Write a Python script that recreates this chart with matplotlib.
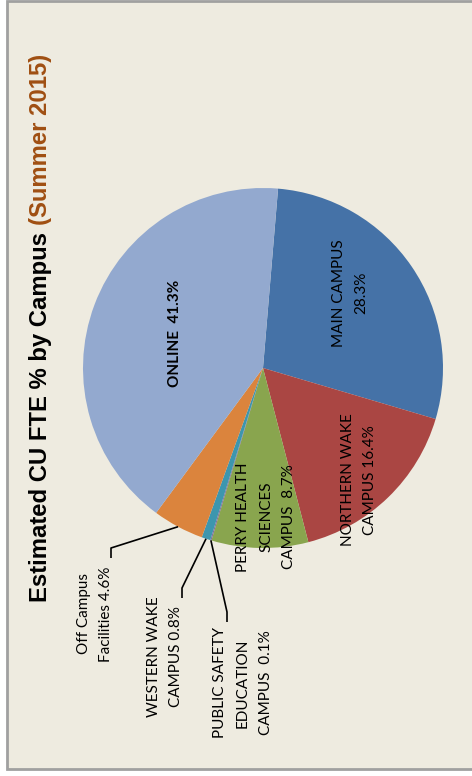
import matplotlib.pyplot as plt
from matplotlib.patches import Rectangle
import numpy as np

campuses = ['MAIN CAMPUS', 'NORTHERN WAKE CAMPUS', 'PERRY HEALTH SCIENCES CAMPUS',
            'PUBLIC SAFETY EDUCATION CAMPUS', 'WESTERN WAKE CAMPUS',
            'Off Campus Facilities', 'ONLINE']
shares = [28.3, 16.4, 8.7, 0.1, 0.8, 4.6, 41.3]
label_texts = ['MAIN CAMPUS\n28.3%', 'NORTHERN WAKE\nCAMPUS 16.4%',
               'PERRY HEALTH\nSCIENCES\nCAMPUS  8.7%', 'PUBLIC SAFETY\nEDUCATION\nCAMPUS  0.1%',
               'WESTERN WAKE\nCAMPUS 0.8%', 'Off Campus\nFacilities 4.6%', 'ONLINE  41.3%']
colors = ['#4572A7', '#AA4643', '#89A54E', '#80699B', '#3D96AE', '#DB843D', '#93A9CF']

W, H = 472, 776


def Y(v):
    # image row -> axes y
    return H - v


fig = plt.figure(figsize=(W / 100, H / 100), dpi=100, facecolor='white')
ax = fig.add_axes([0, 0, 1, 1])

ax.add_patch(Rectangle((6.5, Y(769)), W, 768, facecolor='#EEEBE0',
                       edgecolor='#A0A0A0', lw=2, zorder=0))

wedges, _ = ax.pie(shares, colors=colors, startangle=85.2, counterclock=False,
                   center=(263, Y(368)), radius=180, frame=True,
                   wedgeprops=dict(linewidth=0))
ax.set_xlim(0, W)
ax.set_ylim(0, H)
ax.set_aspect('equal')
ax.axis('off')

lab_font = 'Lato'
fs = 11
ls = 1.8
# labels inside the pie
inside = {0: (350, 293), 1: (359, 480), 2: (266, 517), 6: (175, 333)}
for i, (x, y) in inside.items():
    ax.text(x, Y(y), label_texts[i], rotation=90, ha='center', va='center',
            multialignment='center', fontsize=fs, family=lab_font,
            fontweight='bold' if i == 6 else 'normal', linespacing=ls)

# outside labels with leader lines
outside = {5: ((95, 614), [(111, 548), (111, 558)]),
           4: ((165, 657), [(182, 588), (182, 598)]),
           3: ((243, 683), [(227, 612), (227, 622)])}
for i, ((x, y), elbow) in outside.items():
    w = wedges[i]
    mid = np.deg2rad((w.theta1 + w.theta2) / 2)
    px = w.center[0] + w.r * np.cos(mid)
    py = w.center[1] + w.r * np.sin(mid)
    xs = [px] + [e[0] for e in elbow]
    ys = [py] + [Y(e[1]) for e in elbow]
    ax.plot(xs, ys, color='black', lw=1.2, solid_capstyle='butt')
    ax.text(x, Y(y), label_texts[i], rotation=90, ha='center', va='center',
            multialignment='center', fontsize=fs, family=lab_font, linespacing=ls)

# title in two colours
t1 = ax.text(41, Y(602), 'Estimated CU FTE % by Campus ', rotation=90, ha='center',
             va='bottom', fontsize=17.2, fontweight='bold', family='Liberation Sans',
             color='black')
fig.canvas.draw()
bb = t1.get_window_extent().transformed(ax.transData.inverted())
ax.text(41, bb.y1, '(Summer 2015)', rotation=90, ha='center', va='bottom',
        fontsize=17.2, fontweight='bold', family='Liberation Sans', color='#A04F12')

fig.savefig('out.png', dpi=100, facecolor='white')
